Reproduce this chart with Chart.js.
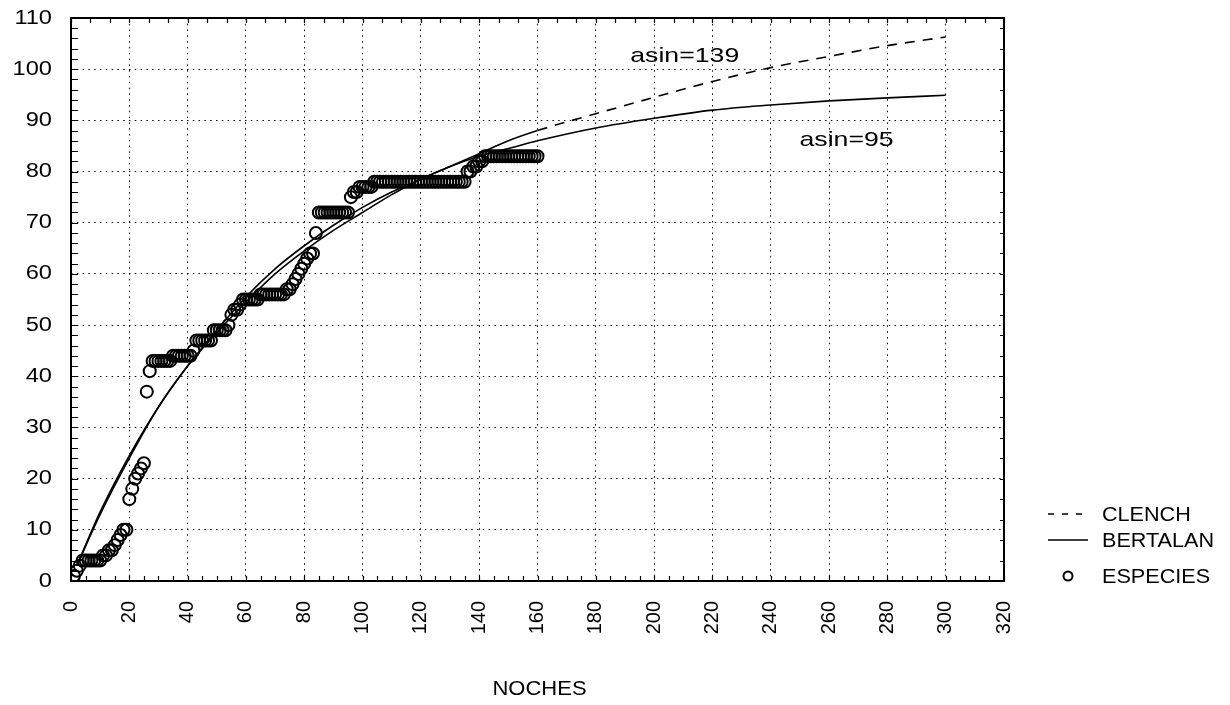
<!DOCTYPE html>
<html>
<head>
<meta charset="utf-8">
<title>Acumulación de especies</title>
<script src="https://cdn.jsdelivr.net/npm/chart.js@4/dist/chart.umd.min.js"></script>
<style>
  html, body { margin: 0; background: #fff; }
  canvas { display: block; }
</style>
</head>
<body>
<canvas id="chart" width="1230" height="705"></canvas>
<script>
'use strict';

// especies acumuladas, una por noche (noche 1 .. 160)
const especies = [
   1,  2,  3,  4,  4,  4,  4,  4,  4,  4,
   5,  5,  6,  6,  7,  8,  9, 10, 10, 16,
  18, 20, 21, 22, 23, 37, 41, 43, 43, 43,
  43, 43, 43, 43, 44, 44, 44, 44, 44, 44,
  44, 45, 47, 47, 47, 47, 47, 47, 49, 49,
  49, 49, 49, 50, 52, 53, 53, 54, 55, 55,
  55, 55, 55, 55, 56, 56, 56, 56, 56, 56,
  56, 56, 56, 57, 57, 58, 59, 60, 61, 62,
  63, 64, 64, 68, 72, 72, 72, 72, 72, 72,
  72, 72, 72, 72, 72, 75, 76, 76, 77, 77,
  77, 77, 77, 78, 78, 78, 78, 78, 78, 78,
  78, 78, 78, 78, 78, 78, 78, 78, 78, 78,
  78, 78, 78, 78, 78, 78, 78, 78, 78, 78,
  78, 78, 78, 78, 78, 80, 80, 81, 81, 82,
  82, 83, 83, 83, 83, 83, 83, 83, 83, 83,
  83, 83, 83, 83, 83, 83, 83, 83, 83, 83,
];
const noches = especies.map((_, i) => i + 1);

// curvas ajustadas
const curvaX   = [2, 10, 20, 30, 40, 50, 60, 70, 80, 90, 100, 110, 120, 130, 140, 150, 160, 180, 200, 220, 240, 260, 280, 300];
const clench   = [3, 13.5, 24.5, 34, 42, 48.5, 54.5, 60, 64.5, 68.5, 72, 75.5, 78.5, 81, 83.5, 86, 88, 91.3, 94.5, 97.6, 100.3, 102.5, 104.6, 106.3];
const bertalan = [3, 13, 24, 34, 42, 49, 55.5, 61, 65.5, 69.5, 73, 76, 78.5, 81, 83, 84.5, 86, 88.5, 90.4, 92, 93, 93.8, 94.4, 94.9];
const finAjuste = 160;   // a partir de aquí Clench se dibuja discontinua

const notas = [
  { texto: 'asin=139', x: 210.5, y: 101.5 },
  { texto: 'asin=95',  x: 266,   y: 85 },
];

const FONT = '"Liberation Sans", Arial, sans-serif';

function stretchText(ctx, text, x, y, sx, align) {
  ctx.save();
  ctx.translate(x, y);
  ctx.scale(sx, 1);
  ctx.textAlign = align || 'left';
  ctx.fillText(text, 0, 0);
  ctx.restore();
}

const framePlugin = {
  id: 'frame',
  afterDraw(chart) {
    const ctx = chart.ctx;
    const xs = chart.scales.x, ys = chart.scales.y;
    const { left, right, top, bottom } = chart.chartArea;

    ctx.save();
    ctx.strokeStyle = '#000';
    ctx.fillStyle = '#000';

    // marcas menores hacia dentro
    ctx.lineWidth = 1.2;
    ctx.beginPath();
    for (let v = 0; v <= 110; v += 2) {
      const py = Math.round(ys.getPixelForValue(v)) + 0.5;
      ctx.moveTo(left, py); ctx.lineTo(left + 7, py);
    }
    for (let v = 0; v <= 110; v += 4) {
      const py = Math.round(ys.getPixelForValue(v)) + 0.5;
      ctx.moveTo(right, py); ctx.lineTo(right - 4, py);
    }
    for (let v = 0; v <= 320; v += 5) {
      const px = Math.round(xs.getPixelForValue(v)) + 0.5;
      ctx.moveTo(px, bottom); ctx.lineTo(px, bottom - 5);
    }
    for (let k = 0; k <= 48; k++) {
      const px = Math.round(xs.getPixelForValue(k * 20 / 3)) + 0.5;
      ctx.moveTo(px, top); ctx.lineTo(px, top + 5);
    }
    ctx.stroke();

    // marco
    ctx.lineWidth = 2;
    ctx.strokeRect(left, top, right - left, bottom - top);

    // etiquetas del eje y
    ctx.font = '20px ' + FONT;
    ctx.textBaseline = 'middle';
    ys.ticks.forEach(t => {
      stretchText(ctx, String(t.value), 52, ys.getPixelForValue(t.value), 1.18, 'right');
    });

    // notas de asíntota
    ctx.font = '21px ' + FONT;
    ctx.textBaseline = 'alphabetic';
    notas.forEach(n => {
      stretchText(ctx, n.texto, xs.getPixelForValue(n.x), ys.getPixelForValue(n.y), 1.27, 'center');
    });

    // título del eje x
    ctx.font = '20px ' + FONT;
    stretchText(ctx, 'NOCHES', (left + right) / 2 + 2, 695, 1.1, 'center');

    // leyenda
    const lx = 1048, tx = 1102;
    ctx.textBaseline = 'middle';
    ctx.lineWidth = 1.5;

    ctx.setLineDash([6, 8]);
    ctx.beginPath(); ctx.moveTo(lx, 514); ctx.lineTo(lx + 42, 514); ctx.stroke();
    ctx.setLineDash([]);
    stretchText(ctx, 'CLENCH', tx, 515, 1.08);

    ctx.beginPath(); ctx.moveTo(lx, 540); ctx.lineTo(lx + 40, 540); ctx.stroke();
    stretchText(ctx, 'BERTALAN', tx, 541, 1.08);

    ctx.lineWidth = 2;
    ctx.beginPath(); ctx.arc(lx + 20, 576, 4.5, 0, Math.PI * 2); ctx.stroke();
    stretchText(ctx, 'ESPECIES', tx, 577, 1.08);

    ctx.restore();
  },
};

new Chart(document.getElementById('chart'), {
  type: 'scatter',
  data: {
    datasets: [
      {
        label: 'CLENCH',
        data: curvaX.map((x, i) => ({ x, y: clench[i] })),
        showLine: true,
        borderColor: '#000',
        borderWidth: 1.6,
        pointRadius: 0,
        cubicInterpolationMode: 'monotone',
        segment: {
          borderDash: c => c.p0.parsed.x >= finAjuste ? [10, 8] : undefined,
        },
      },
      {
        label: 'BERTALAN',
        data: curvaX.map((x, i) => ({ x, y: bertalan[i] })),
        showLine: true,
        borderColor: '#000',
        borderWidth: 1.6,
        pointRadius: 0,
        cubicInterpolationMode: 'monotone',
      },
      {
        label: 'ESPECIES',
        data: noches.map((x, i) => ({ x, y: especies[i] })),
        showLine: false,
        pointStyle: 'circle',
        pointRadius: 6,
        pointBorderWidth: 2,
        pointBorderColor: '#000',
        pointBackgroundColor: 'rgba(255,255,255,0)',
      },
    ],
  },
  options: {
    responsive: false,
    animation: false,
    devicePixelRatio: 1,
    layout: { padding: { top: 18, right: 226, left: 0, bottom: 0 } },
    plugins: {
      legend: { display: false },
      tooltip: { enabled: false },
    },
    scales: {
      x: {
        type: 'linear',
        min: 0,
        max: 320,
        afterFit: s => { s.height = 124; },
        ticks: {
          stepSize: 20,
          autoSkip: false,
          minRotation: 90,
          maxRotation: 90,
          padding: 20,
          color: '#000',
          font: { family: FONT, size: 20 },
        },
        grid: { color: '#000', lineWidth: 1, drawTicks: false },
        border: { display: false, dash: [1.5, 4.3] },
      },
      y: {
        min: 0,
        max: 110,
        afterFit: s => { s.width = 71; },
        ticks: { stepSize: 10, display: false },
        grid: { color: '#000', lineWidth: 1, drawTicks: false },
        border: { display: false, dash: [1.5, 4.3] },
      },
    },
  },
  plugins: [framePlugin],
});
</script>
</body>
</html>
